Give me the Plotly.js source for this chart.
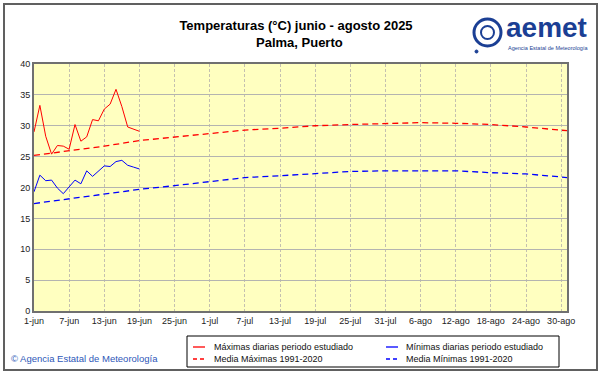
<!DOCTYPE html>
<html><head><meta charset="utf-8">
<script src="https://cdn.plot.ly/plotly-3.0.1.min.js"></script>
<style>html,body{margin:0;padding:0;background:#fff}#chart{width:601px;height:374px}</style>
</head><body><div id="chart"></div>
<script>
const obsDates = ['2025-06-01','2025-06-02','2025-06-03','2025-06-04','2025-06-05','2025-06-06','2025-06-07','2025-06-08','2025-06-09','2025-06-10','2025-06-11','2025-06-12','2025-06-13','2025-06-14','2025-06-15','2025-06-16','2025-06-17','2025-06-18','2025-06-19'];
const maxDaily = [29.0,33.3,28.3,25.4,26.8,26.7,26.2,30.2,27.5,28.2,31.0,30.8,32.7,33.5,35.9,33.1,29.8,29.4,29.1];
const minDaily = [19.3,22.0,21.1,21.2,19.9,19.0,20.1,21.2,20.6,22.7,21.8,22.6,23.5,23.4,24.2,24.4,23.6,23.3,23.0];
const climDates = ['2025-06-01','2025-06-07','2025-06-13','2025-06-19','2025-06-25','2025-07-01','2025-07-07','2025-07-13','2025-07-19','2025-07-25','2025-07-31','2025-08-06','2025-08-12','2025-08-18','2025-08-24','2025-08-30','2025-08-31'];
const meanMax = [25.2,25.9,26.7,27.6,28.2,28.8,29.3,29.6,30.0,30.2,30.4,30.5,30.4,30.2,29.8,29.3,29.2];
const meanMin = [17.4,18.2,18.9,19.7,20.3,21.0,21.6,21.9,22.3,22.6,22.7,22.7,22.7,22.4,22.2,21.7,21.6];
const tickDates = ['2025-06-01','2025-06-07','2025-06-13','2025-06-19','2025-06-25','2025-07-01','2025-07-07','2025-07-13','2025-07-19','2025-07-25','2025-07-31','2025-08-06','2025-08-12','2025-08-18','2025-08-24','2025-08-30'];
const tickLabels = ['1-jun','7-jun','13-jun','19-jun','25-jun','1-jul','7-jul','13-jul','19-jul','25-jul','31-jul','6-ago','12-ago','18-ago','24-ago','30-ago'];
const seriesNames = ['Máximas diarias periodo estudiado','Mínimas diarias periodo estudiado','Media Máximas 1991-2020','Media Mínimas 1991-2020'];

const FONT = 'Liberation Sans, Arial, sans-serif';
const W = 601, H = 374, ML = 34, MR = 34, MT = 64, MB = 63;
const PW = W - ML - MR, PH = H - MT - MB;
const px = x => (x - ML) / PW;
const py = y => (H - MB - y) / PH;

const traces = [
  {x: obsDates, y: maxDaily, type:'scatter', mode:'lines', name:seriesNames[0], line:{color:'#FF0000', width:1}},
  {x: obsDates, y: minDaily, type:'scatter', mode:'lines', name:seriesNames[1], line:{color:'#0000FF', width:1}},
  {x: climDates, y: meanMax, type:'scatter', mode:'lines', name:seriesNames[2], line:{color:'#FF0000', width:1.3, dash:'6px,4px'}},
  {x: climDates, y: meanMin, type:'scatter', mode:'lines', name:seriesNames[3], line:{color:'#0000FF', width:1.3, dash:'6px,4px'}}
];

const legendItems = [
  {lx:193, tx:212, y:347, color:'#FF0000', dash:'solid', name:seriesNames[0]},
  {lx:386, tx:404, y:347, color:'#0000FF', dash:'solid', name:seriesNames[1]},
  {lx:193, tx:212, y:359, color:'#FF0000', dash:'4px,3px', name:seriesNames[2]},
  {lx:386, tx:404, y:359, color:'#0000FF', dash:'4px,3px', name:seriesNames[3]}
];

const shapes = [
  {type:'rect', xref:'paper', yref:'paper', x0:px(4), x1:px(597), y0:py(370), y1:py(4), line:{color:'#606060', width:2}, fillcolor:'rgba(0,0,0,0)', layer:'below'},
  {type:'rect', xref:'paper', yref:'paper', x0:px(187), x1:px(559), y0:py(367), y1:py(336), line:{color:'#000000', width:1}, fillcolor:'#FFFFFF'},
  {type:'circle', xref:'paper', yref:'paper', x0:px(474), x1:px(501), y0:py(46), y1:py(19), line:{color:'#1B3F94', width:3}},
  {type:'circle', xref:'paper', yref:'paper', x0:px(481), x1:px(494), y0:py(39), y1:py(26), line:{color:'#1B3F94', width:2}},
  {type:'circle', xref:'paper', yref:'paper', x0:px(475), x1:px(478), y0:py(53), y1:py(50), line:{color:'#1B3F94', width:1}, fillcolor:'#1B3F94'}
];
const annotations = [
  {text:'<b>Palma, Puerto</b>', xref:'paper', yref:'paper', x:px(299), y:py(43), xanchor:'center', yanchor:'middle', showarrow:false, font:{family:FONT, size:13, color:'#000000'}},
  {text:'<b>aemet</b>', xref:'paper', yref:'paper', x:px(504), y:py(27), xanchor:'left', yanchor:'middle', showarrow:false, font:{family:FONT, size:28, color:'#1B3F94'}},
  {text:'Agencia Estatal de Meteorología', xref:'paper', yref:'paper', x:px(506), y:py(48), xanchor:'left', yanchor:'middle', showarrow:false, font:{family:FONT, size:5.5, color:'#1B3F94'}},
  {text:'© Agencia Estatal de Meteorología', xref:'paper', yref:'paper', x:px(9), y:py(358), xanchor:'left', yanchor:'middle', showarrow:false, font:{family:FONT, size:9.5, color:'#2E57B8'}}
];
legendItems.forEach(it => {
  shapes.push({type:'line', xref:'paper', yref:'paper', x0:px(it.lx), x1:px(it.lx + 12), y0:py(it.y), y1:py(it.y), line:{color:it.color, width:1.3, dash:it.dash}});
  annotations.push({text:it.name, xref:'paper', yref:'paper', x:px(it.tx), y:py(it.y), xanchor:'left', yanchor:'middle', showarrow:false, font:{family:FONT, size:9, color:'#111111'}});
});

const layout = {
  width:W, height:H,
  margin:{l:ML, r:MR, t:MT, b:MB, autoexpand:false},
  paper_bgcolor:'#FFFFFF', plot_bgcolor:'#FFFFC0',
  font:{family:FONT, size:9, color:'#222222'},
  title:{text:'<b>Temperaturas (°C) junio - agosto 2025</b>', x:296/W, xanchor:'center', y:1 - 25/H, yanchor:'middle', yref:'container', xref:'container', font:{family:FONT, size:13, color:'#000000'}},
  xaxis:{type:'date', range:['2025-06-01','2025-08-31'], tickvals:tickDates, ticktext:tickLabels, tickangle:0,
    showgrid:true, gridcolor:'#C4C0B0', griddash:'3px,2px', gridwidth:1, ticks:'', showline:true, mirror:true, linecolor:'#707070', linewidth:2,
    tickfont:{family:FONT, size:9, color:'#222222'}, fixedrange:true, zeroline:false, automargin:false},
  yaxis:{range:[0,40], dtick:5, tick0:0, showgrid:true, gridcolor:'#B4B4B0', gridwidth:1, ticks:'', showline:true, mirror:true, linecolor:'#707070', linewidth:2,
    tickfont:{family:FONT, size:9, color:'#222222'}, zeroline:false, fixedrange:true, automargin:false},
  showlegend:false,
  shapes: shapes,
  annotations: annotations
};
Plotly.newPlot('chart', traces, layout, {displayModeBar:false, staticPlot:true});
</script></body></html>
